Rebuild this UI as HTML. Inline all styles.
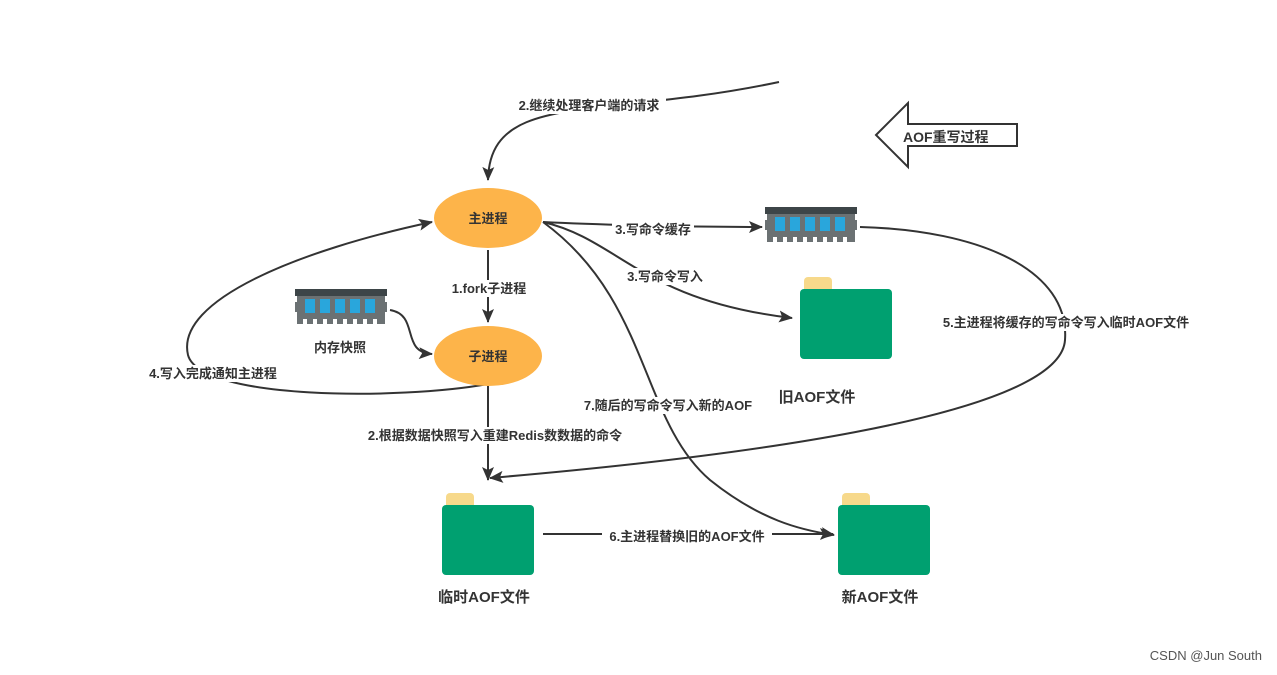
<!DOCTYPE html>
<html><head><meta charset="utf-8"><style>
html,body{margin:0;padding:0;background:#fff;}
svg text{font-family:"Liberation Sans","Noto Sans CJK SC",sans-serif;font-weight:bold;fill:#333;}
</style></head><body>
<svg width="1277" height="670" viewBox="0 0 1277 670" xmlns="http://www.w3.org/2000/svg">
<defs>
<marker id="a" markerWidth="14" markerHeight="12" refX="13" refY="6" orient="auto" markerUnits="userSpaceOnUse" viewBox="0 0 14 12">
<path d="M0,0 L14,6 L0,12 L3,6 z" fill="#333"/></marker>
<g id="ram">
<rect x="0" y="0" width="92" height="7" fill="#3d4548"/>
<rect x="2" y="7" width="88" height="28" fill="#6b7173"/>
<rect x="0" y="13" width="2" height="10" fill="#6b7173"/><rect x="90" y="13" width="2" height="10" fill="#6b7173"/>
<rect x="10" y="10" width="10" height="14" fill="#29a6dc"/>
<rect x="25" y="10" width="10" height="14" fill="#29a6dc"/>
<rect x="40" y="10" width="10" height="14" fill="#29a6dc"/>
<rect x="55" y="10" width="10" height="14" fill="#29a6dc"/>
<rect x="70" y="10" width="10" height="14" fill="#29a6dc"/>
<g fill="#fff"><rect x="8" y="30" width="4" height="5"/><rect x="18" y="30" width="4" height="5"/><rect x="28" y="30" width="4" height="5"/><rect x="38" y="30" width="4" height="5"/><rect x="48" y="30" width="4" height="5"/><rect x="58" y="30" width="4" height="5"/><rect x="68" y="30" width="4" height="5"/><rect x="78" y="30" width="4" height="5"/></g>
</g>
<g id="fold">
<path d="M8,0 h20 a4,4 0 0 1 4,4 v8 h-28 v-8 a4,4 0 0 1 4,-4z" fill="#f7d98b"/>
<rect x="0" y="12" width="92" height="70" rx="4" fill="#00a070"/>
</g>
</defs>

<g fill="none" stroke="#333" stroke-width="2">
<path d="M779,82 C600,120 490,90 488,180" marker-end="url(#a)"/>
<path d="M543,222 C600,225 700,227 762,227" marker-end="url(#a)"/>
<path d="M543,222 C620,240 640,300 792,318" marker-end="url(#a)"/>
<path d="M543,222 C650,300 640,420 710,480 C760,520 800,530 834,535" marker-end="url(#a)"/>
<path d="M488,250 L488,322" marker-end="url(#a)"/>
<path d="M390,310 C420,315 400,352 432,354" marker-end="url(#a)"/>
<path d="M488,384 C400,400 200,400 188,355 C175,300 300,250 432,222" marker-end="url(#a)"/>
<path d="M488,386 L488,480" marker-end="url(#a)"/>
<path d="M860,227 C980,230 1070,270 1065,340 C1060,420 700,460 490,478" marker-end="url(#a)"/>
<path d="M543,534 L833,534" marker-end="url(#a)"/>
</g>

<polygon points="876,135 908,103 908,124 1017,124 1017,146 908,146 908,167" fill="#fff" stroke="#333" stroke-width="2"/>
<text x="903" y="142" font-size="14">AOF重写过程</text>

<ellipse cx="488" cy="218" rx="54" ry="30" fill="#fdb44a"/>
<ellipse cx="488" cy="356" rx="54" ry="30" fill="#fdb44a"/>
<text x="488" y="223" font-size="13" text-anchor="middle">主进程</text>
<text x="488" y="361" font-size="13" text-anchor="middle">子进程</text>

<use href="#ram" x="765" y="207"/>
<use href="#ram" x="295" y="289"/>
<use href="#fold" x="800" y="277"/>
<use href="#fold" x="442" y="493"/>
<use href="#fold" x="838" y="493"/>

<g font-size="13" text-anchor="middle">
<rect x="512" y="96" width="154" height="18" fill="#fff"/>
<text x="589" y="110">2.继续处理客户端的请求</text>
<rect x="612" y="221" width="82" height="17" fill="#fff"/>
<text x="653" y="234">3.写命令缓存</text>
<rect x="624" y="268" width="82" height="17" fill="#fff"/>
<text x="665" y="281">3.写命令写入</text>
<rect x="447" y="280" width="84" height="17" fill="#fff"/>
<text x="489" y="293">1.fork子进程</text>
<rect x="576" y="397" width="184" height="17" fill="#fff"/>
<text x="668" y="410">7.随后的写命令写入新的AOF</text>
<rect x="144" y="365" width="140" height="17" fill="#fff"/>
<text x="213" y="378">4.写入完成通知主进程</text>
<rect x="350" y="427" width="290" height="17" fill="#fff"/>
<text x="495" y="440">2.根据数据快照写入重建Redis数数据的命令</text>
<rect x="932" y="314" width="268" height="17" fill="#fff"/>
<text x="1066" y="327">5.主进程将缓存的写命令写入临时AOF文件</text>
<rect x="602" y="528" width="170" height="17" fill="#fff"/>
<text x="687" y="541">6.主进程替换旧的AOF文件</text>
<text x="340" y="352" font-size="13">内存快照</text>
</g>
<g font-size="15" text-anchor="middle">
<text x="817" y="402">旧AOF文件</text>
<text x="484" y="602">临时AOF文件</text>
<text x="880" y="602">新AOF文件</text>
</g>
<text x="1262" y="660" font-size="13" text-anchor="end" style="font-weight:normal;fill:#555">CSDN @Jun South</text>
</svg>
</body></html>
